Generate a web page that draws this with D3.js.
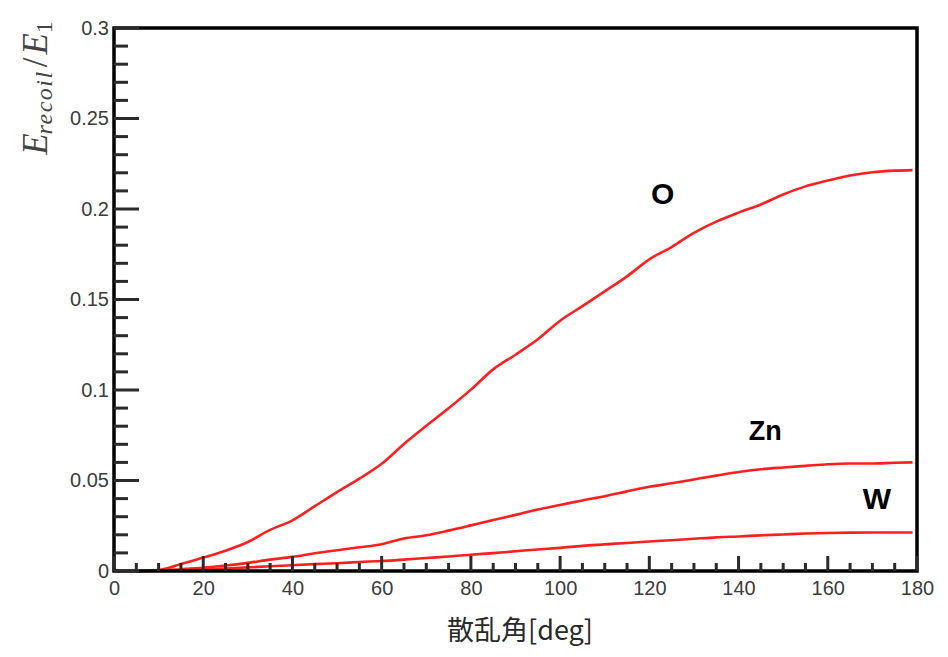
<!DOCTYPE html>
<html>
<head>
<meta charset="utf-8">
<script src="https://cdn.jsdelivr.net/npm/d3@7/dist/d3.min.js"></script>
<style>
  html, body { margin: 0; padding: 0; background: #fff; }
  svg { display: block; }
</style>
</head>
<body>
<svg id="chart" width="948" height="657"></svg>
<script>
// Scattering angle (degrees) at which each recoil ratio is sampled
const angles = [5, 10, 15, 20, 25, 30, 35, 40, 45, 50, 55, 60, 65, 70, 75, 80, 85, 90,
  95, 100, 105, 110, 115, 120, 125, 130, 135, 140, 145, 150, 155, 160, 165, 170, 175, 179];

// E_recoil / E_1 for each target nucleus
const oxygen = [0, 0.0005, 0.0038, 0.0074, 0.0112, 0.016, 0.0227, 0.028, 0.0358, 0.0436,
  0.051, 0.0592, 0.0702, 0.0802, 0.0899, 0.1002, 0.1114, 0.1195, 0.128, 0.1383, 0.1463,
  0.1545, 0.1628, 0.1722, 0.179, 0.1868, 0.193, 0.198, 0.2025, 0.208, 0.2125, 0.2157,
  0.2185, 0.2203, 0.2212, 0.2215];
const zinc = [0, 0.0003, 0.001, 0.0018, 0.003, 0.0045, 0.0063, 0.0078, 0.0098, 0.0115,
  0.0131, 0.0148, 0.018, 0.0197, 0.0223, 0.0252, 0.0282, 0.031, 0.034, 0.0365, 0.039,
  0.0413, 0.044, 0.0465, 0.0485, 0.0506, 0.0527, 0.0547, 0.0562, 0.0572, 0.0581, 0.059,
  0.0594, 0.0594, 0.0598, 0.06];
const tungsten = [0, 0.0001, 0.0004, 0.0009, 0.0014, 0.002, 0.0026, 0.0032, 0.0038, 0.0043,
  0.005, 0.0055, 0.0063, 0.0072, 0.008, 0.009, 0.0099, 0.0109, 0.0119, 0.0128, 0.0139,
  0.0147, 0.0155, 0.0163, 0.017, 0.0178, 0.0186, 0.0191, 0.0197, 0.0202, 0.0207, 0.021,
  0.0212, 0.0213, 0.0213, 0.0213];

const seriesNames = ["O", "Zn", "W"];
// Where each element name sits, in data units
const labelAngles = [123, 146, 171];
const labelValues = [0.2025, 0.0725, 0.034];

const xTicks = [0, 20, 40, 60, 80, 100, 120, 140, 160, 180];
const yTicks = [0, 0.05, 0.1, 0.15, 0.2, 0.25, 0.3];
const yTickLabels = ["0", "0.05", "0.1", "0.15", "0.2", "0.25", "0.3"];

const svg = d3.select("#chart");
const plotLeft = 114, plotRight = 917, plotTop = 28, plotBottom = 571;

const x = d3.scaleLinear().domain([0, 180]).range([plotLeft, plotRight]);
const y = d3.scaleLinear().domain([0, 0.3]).range([plotBottom, plotTop]);

const tickColor = "#2b2b2b";
const labelColor = "#3c3c3c";
const tickFont = "Liberation Sans, Arial, sans-serif";

function styleLabels(g) {
  g.select(".domain").remove();
  g.selectAll(".tick line").remove();
  g.selectAll(".tick text")
    .attr("font-family", tickFont).attr("font-size", 20).attr("fill", labelColor);
}

// Tick labels from the library's axes
svg.append("g")
  .attr("transform", `translate(0,${plotBottom})`)
  .call(d3.axisBottom(x).tickValues(xTicks).tickSize(0).tickPadding(10).tickFormat(d => d))
  .call(styleLabels);
svg.append("g")
  .attr("transform", `translate(${plotLeft},0)`)
  .call(d3.axisLeft(y).tickValues(yTicks).tickSize(0).tickPadding(5)
    .tickFormat((d, i) => yTickLabels[i]))
  .call(styleLabels);

// Curves
const line = d3.line()
  .x((d, i) => x(angles[i]))
  .y(d => y(d))
  .curve(d3.curveMonotoneX);

[oxygen, zinc, tungsten].forEach(values => {
  svg.append("path")
    .datum(values)
    .attr("d", line)
    .attr("fill", "none")
    .attr("stroke", "#ff1f1f")
    .attr("stroke-width", 2.6)
    .attr("stroke-linejoin", "round");
});

// Frame
svg.append("rect")
  .attr("x", plotLeft).attr("y", plotTop)
  .attr("width", plotRight - plotLeft).attr("height", plotBottom - plotTop)
  .attr("fill", "none").attr("stroke", "#000").attr("stroke-width", 3.5);

// Inward tick marks: x every 5 degrees (major every 20), y every 0.01 (major every 0.05)
const xMarks = d3.range(0, 181, 5);
svg.append("g").selectAll("rect").data(xMarks).join("rect")
  .attr("x", d => x(d) - 1.5)
  .attr("width", 3)
  .attr("y", d => plotBottom - (d % 20 === 0 ? 15 : 8))
  .attr("height", d => (d % 20 === 0 ? 15 : 8))
  .attr("fill", tickColor);

const yMarks = d3.range(0, 31);
svg.append("g").selectAll("rect").data(yMarks).join("rect")
  .attr("x", plotLeft)
  .attr("width", i => (i % 5 === 0 ? 25 : 14))
  .attr("y", i => y(i / 100) - 1.5)
  .attr("height", 3)
  .attr("fill", tickColor);

// Element names beside the curves
const labelSizes = [30, 27, 30];
svg.append("g").selectAll("text").data(seriesNames).join("text")
  .attr("x", (d, i) => x(labelAngles[i]))
  .attr("y", (d, i) => y(labelValues[i]))
  .attr("text-anchor", "middle")
  .attr("font-family", "Liberation Sans, Arial, sans-serif")
  .attr("font-weight", "bold")
  .attr("font-size", (d, i) => labelSizes[i])
  .attr("fill", "#000")
  .text(d => d);

// Axis titles
svg.append("text")
  .attr("x", 520).attr("y", 640)
  .attr("text-anchor", "middle")
  .attr("font-family", "Noto Sans CJK JP, sans-serif")
  .attr("font-size", 27).attr("fill", "#2a2a2a")
  .text("散乱角[deg]");

const yTitle = svg.append("text")
  .attr("transform", "translate(47,88) rotate(-90)")
  .attr("text-anchor", "middle")
  .attr("font-family", "Liberation Serif, Times New Roman, serif")
  .attr("fill", "#444");
yTitle.append("tspan").attr("font-size", 35).attr("font-style", "italic").text("E");
yTitle.append("tspan").attr("font-size", 24).attr("font-style", "italic")
  .attr("dy", 5).attr("dx", -1).attr("letter-spacing", 1.5).text("recoil");
yTitle.append("tspan").attr("font-size", 35).attr("dy", -5).attr("dx", 3).text("/");
yTitle.append("tspan").attr("font-size", 35).attr("font-style", "italic").attr("dx", 3).text("E");
yTitle.append("tspan").attr("font-size", 24).attr("dy", 5).attr("dx", 0).text("1");
</script>
</body>
</html>
